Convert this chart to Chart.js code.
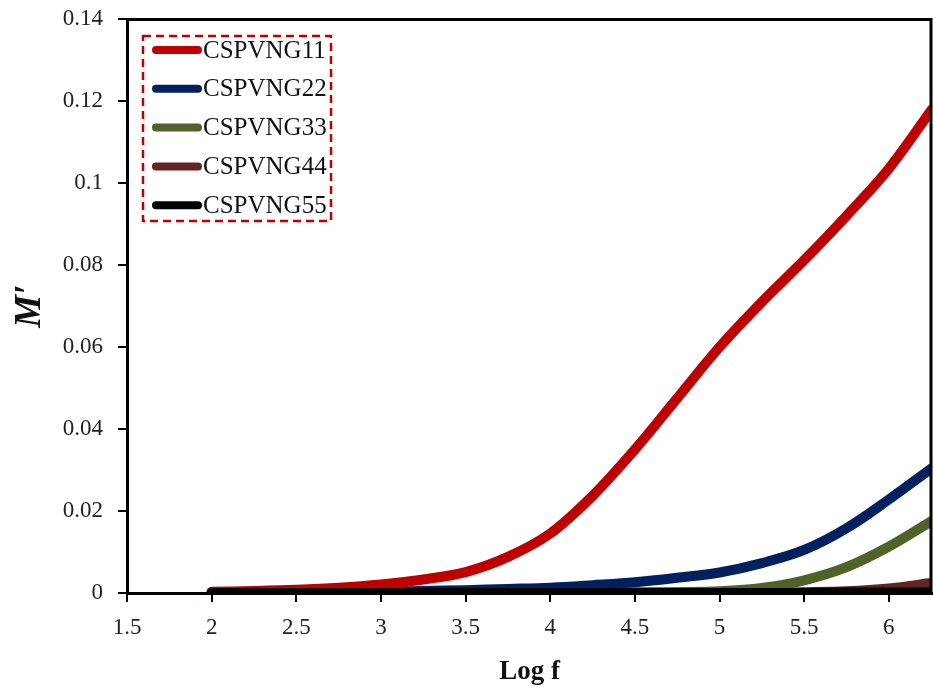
<!DOCTYPE html>
<html>
<head>
<meta charset="utf-8">
<script src="https://cdn.jsdelivr.net/npm/chart.js@4"></script>
<style>
  html, body { margin: 0; padding: 0; background: #fff; }
  canvas { display: block; }
</style>
</head>
<body>
<canvas id="c" width="934" height="688"></canvas>
<script>
// Log of frequency (x) for every sample series
const logF = [2, 2.25, 2.5, 2.75, 3, 3.25, 3.5, 3.75, 4, 4.25, 4.5, 4.75, 5, 5.25, 5.5, 5.75, 6, 6.255];

// Real part of the electric modulus M′ for each composition
const cspvng11 = [0.0003, 0.0005, 0.0008, 0.0013, 0.0021, 0.0033, 0.0051, 0.0088, 0.0145, 0.0237, 0.0350, 0.0475, 0.0600, 0.0710, 0.0812, 0.0920, 0.1035, 0.1180];
const cspvng22 = [0.0001, 0.0001, 0.0002, 0.0002, 0.0003, 0.0005, 0.0007, 0.0010, 0.0013, 0.0019, 0.0026, 0.0037, 0.0050, 0.0073, 0.0105, 0.0158, 0.0228, 0.0305];
const cspvng33 = [0.0001, 0.0001, 0.0001, 0.0001, 0.0001, 0.0001, 0.0001, 0.0001, 0.0001, 0.0001, 0.0001, 0.0002, 0.0004, 0.0012, 0.0031, 0.0063, 0.0113, 0.0176];
const cspvng44 = [0.0001, 0.0001, 0.0001, 0.0001, 0.0001, 0.0001, 0.0001, 0.0001, 0.0001, 0.0001, 0.0001, 0.0001, 0.0001, 0.0001, 0.0002, 0.0004, 0.0011, 0.0025];
const cspvng55 = [0.0000, 0.0000, 0.0000, 0.0000, 0.0000, 0.0000, 0.0000, 0.0000, 0.0000, 0.0000, 0.0000, 0.0000, 0.0000, 0.0000, 0.0000, 0.0001, 0.0001, 0.0002];

const seriesNames = ['CSPVNG11', 'CSPVNG22', 'CSPVNG33', 'CSPVNG44', 'CSPVNG55'];
const seriesValues = [cspvng11, cspvng22, cspvng33, cspvng44, cspvng55];
const seriesColors = ['#C00000', '#002060', '#4F6228', '#632523', '#000000'];

const xTicks = [1.5, 2, 2.5, 3, 3.5, 4, 4.5, 5, 5.5, 6];
const yTicks = [0, 0.02, 0.04, 0.06, 0.08, 0.1, 0.12, 0.14];

const SERIF = '"Liberation Serif", "DejaVu Serif", serif';

const datasets = seriesNames.map((name, i) => ({
  label: name,
  data: logF.map((x, k) => ({ x: x, y: seriesValues[i][k] })),
  borderColor: seriesColors[i],
  backgroundColor: seriesColors[i],
  borderWidth: 10,
  borderCapStyle: 'round',
  borderJoinStyle: 'round',
  pointRadius: 0,
  fill: false,
  tension: 0.35,
  order: i === 4 ? 0 : i + 1
}));

// Box legend with dashed outline in the upper-left of the plot
const boxLegend = {
  id: 'boxLegend',
  afterDraw(chart) {
    const ctx = chart.ctx;
    const a = chart.chartArea;
    const bx = a.left + 16, by = a.top + 17, bw = 188, bh = 185;
    ctx.save();
    ctx.strokeStyle = '#C00000';
    ctx.lineWidth = 2.5;
    ctx.setLineDash([8, 5]);
    ctx.strokeRect(bx, by, bw, bh);
    ctx.setLineDash([]);
    ctx.font = '25px ' + SERIF;
    ctx.textBaseline = 'middle';
    ctx.textAlign = 'left';
    seriesNames.forEach((name, i) => {
      const y = by + 14 + i * 38.8;
      ctx.strokeStyle = seriesColors[i];
      ctx.lineWidth = 8;
      ctx.lineCap = 'round';
      ctx.beginPath();
      ctx.moveTo(bx + 13, y);
      ctx.lineTo(bx + 55, y);
      ctx.stroke();
      ctx.fillStyle = '#111';
      ctx.fillText(name, bx + 60, y + 1);
    });
    ctx.restore();
  }
};

// Top and right edges of the plot frame
const frame = {
  id: 'frame',
  afterDatasetsDraw(chart) {
    const ctx = chart.ctx;
    const a = chart.chartArea;
    ctx.save();
    ctx.strokeStyle = '#000';
    ctx.lineWidth = 3;
    ctx.beginPath();
    ctx.moveTo(a.left, a.top + 0.5);
    ctx.lineTo(a.right - 1, a.top + 0.5);
    ctx.lineTo(a.right - 1, a.bottom);
    ctx.stroke();
    ctx.restore();
  }
};

new Chart(document.getElementById('c'), {
  type: 'line',
  data: { datasets: datasets },
  plugins: [frame, boxLegend],
  options: {
    responsive: false,
    animation: false,
    devicePixelRatio: 1,
    layout: { padding: { top: 19, right: 2, left: 0, bottom: 0 } },
    plugins: { legend: { display: false }, tooltip: { enabled: false } },
    scales: {
      x: {
        type: 'linear',
        min: 1.5,
        max: 6.255,
        afterFit(s) { s.height = 95; s.paddingLeft = 0; s.paddingRight = 0; },
        afterBuildTicks(s) { s.ticks = xTicks.map(v => ({ value: v })); },
        grid: { drawOnChartArea: false, drawTicks: true, tickLength: 9, color: '#000', lineWidth: 2 },
        border: { display: true, color: '#000', width: 3 },
        ticks: {
          autoSkip: false, maxRotation: 0, padding: 12, color: '#222',
          font: { family: SERIF, size: 23 },
          callback: v => String(v)
        },
        title: {
          display: true, text: 'Log f', color: '#111',
          font: { family: SERIF, size: 27, weight: 'bold', lineHeight: 1.2 },
          padding: { top: 0, bottom: 0 }
        }
      },
      y: {
        type: 'linear',
        min: 0,
        max: 0.14,
        afterFit(s) { s.width = 127; s.paddingTop = 0; s.paddingBottom = 0; },
        afterBuildTicks(s) { s.ticks = yTicks.map(v => ({ value: v })); },
        grid: { drawOnChartArea: false, drawTicks: true, tickLength: 9, color: '#000', lineWidth: 2 },
        border: { display: true, color: '#000', width: 3 },
        ticks: {
          autoSkip: false, padding: 15, color: '#222',
          font: { family: SERIF, size: 23 },
          callback: v => String(+v.toFixed(2))
        },
        title: {
          display: true, text: 'M′', color: '#111',
          font: { family: SERIF, size: 37, weight: 'bold', style: 'italic', lineHeight: 1.2 },
          padding: { top: 8, bottom: 0 }
        }
      }
    }
  }
});
</script>
</body>
</html>
